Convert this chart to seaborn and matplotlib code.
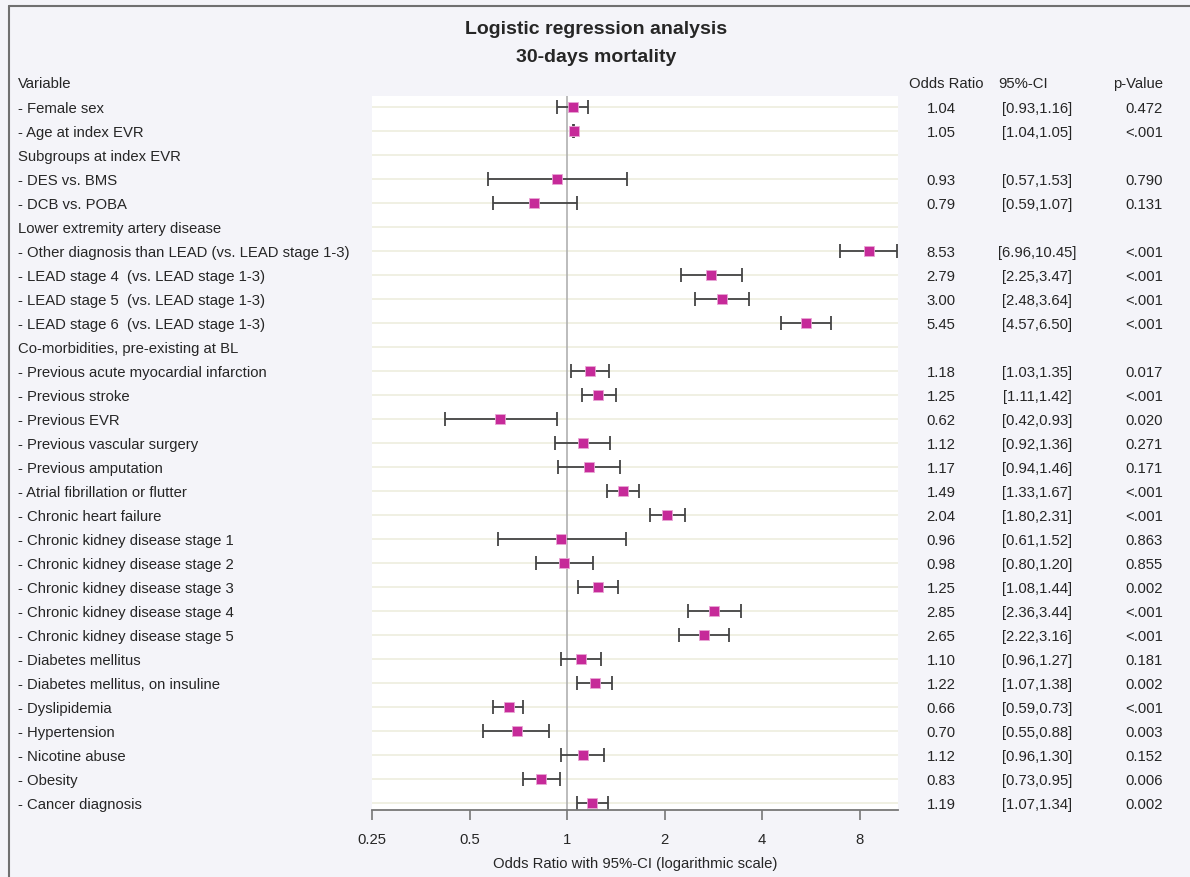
import numpy as np
import pandas as pd
import matplotlib
matplotlib.use("Agg")
import matplotlib.pyplot as plt
import matplotlib.transforms as mtransforms
from matplotlib.lines import Line2D
import seaborn as sns

labels = [
    "- Female sex", "- Age at index EVR", "Subgroups at index EVR",
    "- DES vs. BMS", "- DCB vs. POBA", "Lower extremity artery disease",
    "- Other diagnosis than LEAD (vs. LEAD stage 1-3)",
    "- LEAD stage 4  (vs. LEAD stage 1-3)",
    "- LEAD stage 5  (vs. LEAD stage 1-3)",
    "- LEAD stage 6  (vs. LEAD stage 1-3)",
    "Co-morbidities, pre-existing at BL",
    "- Previous acute myocardial infarction", "- Previous stroke",
    "- Previous EVR", "- Previous vascular surgery", "- Previous amputation",
    "- Atrial fibrillation or flutter", "- Chronic heart failure",
    "- Chronic kidney disease stage 1", "- Chronic kidney disease stage 2",
    "- Chronic kidney disease stage 3", "- Chronic kidney disease stage 4",
    "- Chronic kidney disease stage 5", "- Diabetes mellitus",
    "- Diabetes mellitus, on insuline", "- Dyslipidemia", "- Hypertension",
    "- Nicotine abuse", "- Obesity", "- Cancer diagnosis",
]
nan = np.nan
odds = [1.04, 1.05, nan, 0.93, 0.79, nan, 8.53, 2.79, 3.00, 5.45, nan,
        1.18, 1.25, 0.62, 1.12, 1.17, 1.49, 2.04, 0.96, 0.98, 1.25, 2.85,
        2.65, 1.10, 1.22, 0.66, 0.70, 1.12, 0.83, 1.19]
ci_low = [0.93, 1.04, nan, 0.57, 0.59, nan, 6.96, 2.25, 2.48, 4.57, nan,
          1.03, 1.11, 0.42, 0.92, 0.94, 1.33, 1.80, 0.61, 0.80, 1.08, 2.36,
          2.22, 0.96, 1.07, 0.59, 0.55, 0.96, 0.73, 1.07]
ci_high = [1.16, 1.05, nan, 1.53, 1.07, nan, 10.45, 3.47, 3.64, 6.50, nan,
           1.35, 1.42, 0.93, 1.36, 1.46, 1.67, 2.31, 1.52, 1.20, 1.44, 3.44,
           3.16, 1.27, 1.38, 0.73, 0.88, 1.30, 0.95, 1.34]
p_values = ["0.472", "<.001", "", "0.790", "0.131", "", "<.001", "<.001",
            "<.001", "<.001", "", "0.017", "<.001", "0.020", "0.271", "0.171",
            "<.001", "<.001", "0.863", "0.855", "0.002", "<.001", "<.001",
            "0.181", "0.002", "<.001", "0.003", "0.152", "0.006", "0.002"]
x_ticks = [0.25, 0.5, 1, 2, 4, 8]
x_tick_labels = ["0.25", "0.5", "1", "2", "4", "8"]

df = pd.DataFrame({"label": labels, "odds": odds, "lo": ci_low,
                   "hi": ci_high, "p": p_values})
df["row"] = np.arange(len(df))

sns.set_theme(style="white")
plt.rcParams["font.family"] = ["Liberation Sans", "DejaVu Sans"]

W, H = 1190, 878
fig = plt.figure(figsize=(W / 100, H / 100), dpi=100, facecolor="#f4f4f9")
ax = fig.add_axes([372 / W, 1 - 811 / H, (898 - 372) / W, (811 - 97) / H])
ax.set_facecolor("white")

# row lines
for r in df["row"]:
    ax.axhline(r, color="#efefe0", lw=1.3, zorder=0)
ax.axvline(1, color="#b0b0b0", lw=1.2, zorder=1)

d = df.dropna(subset=["odds"])
ax.errorbar(d["odds"], d["row"],
            xerr=[d["odds"] - d["lo"], d["hi"] - d["odds"]],
            fmt="none", ecolor="#444444", elinewidth=1.3, capsize=5,
            capthick=1.3, zorder=2)
sns.scatterplot(data=d, x="odds", y="row", marker="s", s=42,
                color="#c62a99", edgecolor="#e9a6d5", linewidth=0.6,
                ax=ax, zorder=3, legend=False)

ax.set_xscale("log")
ax.set_xlim(0.25, 10.5)
ax.set_ylim(29.29, -0.458)
ax.set_xticks(x_ticks)
ax.set_xticklabels(x_tick_labels, fontsize=10.7)
ax.minorticks_off()
ax.set_yticks([])
ax.set_ylabel("")
ax.set_xlabel("Odds Ratio with 95%-CI (logarithmic scale)", fontsize=10.7,
              labelpad=7)
ax.tick_params(axis="x", direction="out", length=7, width=1.2,
               color="#777777", pad=9, bottom=True)
for s in ["top", "right", "left"]:
    ax.spines[s].set_visible(False)
ax.spines["bottom"].set_color("#777777")
ax.spines["bottom"].set_linewidth(1.3)

tr = mtransforms.blended_transform_factory(fig.transFigure, ax.transData)
fs = 10.7
ax.text(18 / W, -1, "Variable", transform=tr, fontsize=fs, va="center",
        ha="left", clip_on=False)
ax.text(909 / W, -1, "Odds Ratio", transform=tr, fontsize=fs, va="center",
        ha="left", clip_on=False)
ax.text(998 / W, -1, "95%-CI", transform=tr, fontsize=fs, va="center",
        ha="left", clip_on=False)
ax.text(1163 / W, -1, "p-Value", transform=tr, fontsize=fs, va="center",
        ha="right", clip_on=False)
for _, r in df.iterrows():
    ax.text(18 / W, r["row"] + 0.04, r["label"], transform=tr, fontsize=fs,
            va="center", ha="left", clip_on=False)
    if not np.isnan(r["odds"]):
        ax.text(941 / W, r["row"] + 0.04, f"{r['odds']:.2f}", transform=tr,
                fontsize=fs, va="center", ha="center", clip_on=False)
        ax.text(1037 / W, r["row"] + 0.04, f"[{r['lo']:.2f},{r['hi']:.2f}]",
                transform=tr, fontsize=fs, va="center", ha="center",
                clip_on=False)
        ax.text(1163 / W, r["row"] + 0.04, r["p"], transform=tr, fontsize=fs,
                va="center", ha="right", clip_on=False)

fig.text(596 / W, 1 - 30 / H, "Logistic regression analysis",
         fontsize=14, fontweight="bold", ha="center", va="center")
fig.text(596 / W, 1 - 57 / H, "30-days mortality",
         fontsize=14, fontweight="bold", ha="center", va="center")

# outer frame (left and top)
fig.add_artist(Line2D([9 / W, 9 / W], [0, 1 - 7 / H], color="#707070",
                      lw=1.5, transform=fig.transFigure))
fig.add_artist(Line2D([9 / W, 1], [1 - 7 / H, 1 - 7 / H], color="#707070",
                      lw=1.5, transform=fig.transFigure))

fig.savefig("out.png", dpi=100, facecolor=fig.get_facecolor())
